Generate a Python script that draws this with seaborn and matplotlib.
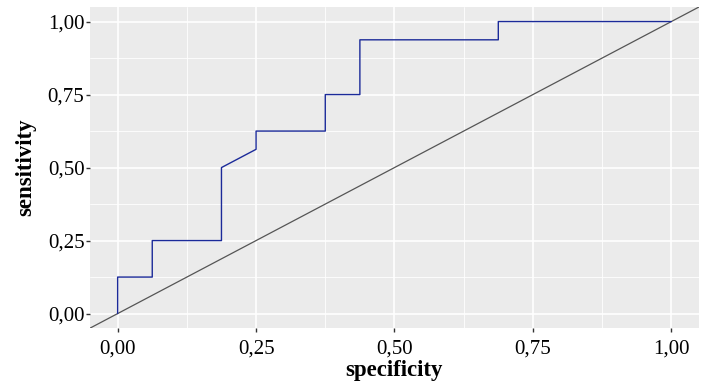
import numpy as np
import pandas as pd
import matplotlib
matplotlib.use('Agg')
import matplotlib.pyplot as plt
import seaborn as sns

# ROC curve points
spec = [0.0, 0.0, 0.0625, 0.0625, 0.1875, 0.1875, 0.25, 0.25, 0.375, 0.375,
        0.4375, 0.4375, 0.6875, 0.6875, 1.0]
sens = [0.0, 0.125, 0.125, 0.25, 0.25, 0.5, 0.5625, 0.625, 0.625, 0.75,
        0.75, 0.9375, 0.9375, 1.0, 1.0]
ticks = [0.0, 0.25, 0.5, 0.75, 1.0]
tick_labels = ['0,00', '0,25', '0,50', '0,75', '1,00']

df = pd.DataFrame({'specificity': spec, 'sensitivity': sens})

sns.set_theme(style='darkgrid', rc={
    'axes.facecolor': '#EBEBEB',
    'grid.color': 'white',
    'xtick.bottom': True, 'ytick.left': True,
    'xtick.color': '#333333', 'ytick.color': '#333333',
    'xtick.major.size': 3, 'ytick.major.size': 3,
    'xtick.major.width': 1.0, 'ytick.major.width': 1.0,
    'xtick.major.pad': 5, 'ytick.major.pad': 1,
})
plt.rcParams['font.family'] = ['Liberation Serif', 'DejaVu Serif']

fig = plt.figure(figsize=(7.14, 3.87), dpi=100)
ax = fig.add_axes([0.126, 0.152, 0.853, 0.830])

ax.set_xlim(-0.05, 1.05)
ax.set_ylim(-0.05, 1.05)
ax.axline((0, 0), slope=1, color='#555555', lw=0.9, zorder=2)
sns.lineplot(data=df, x='specificity', y='sensitivity', sort=False, estimator=None,
             color='#1B2A99', lw=1.0, ax=ax, zorder=3)

ax.set_xticks(ticks)
ax.set_xticklabels(tick_labels, fontsize=15, color='black')
ax.set_yticks(ticks)
ax.set_yticklabels(tick_labels, fontsize=15, color='black')
ax.set_xticks(np.arange(0.125, 1.0, 0.25), minor=True)
ax.set_yticks(np.arange(0.125, 1.0, 0.25), minor=True)
ax.tick_params(which='minor', length=0)
ax.grid(which='major', color='white', lw=1.2)
ax.grid(which='minor', color='white', lw=0.6)
for s in ax.spines.values():
    s.set_visible(False)

ax.set_xlabel('specificity', fontsize=16.5, fontweight='bold', color='black', labelpad=1)
ax.set_ylabel('sensitivity', fontsize=16.5, fontweight='bold', color='black', labelpad=8)

fig.savefig('out.png', dpi=100)
